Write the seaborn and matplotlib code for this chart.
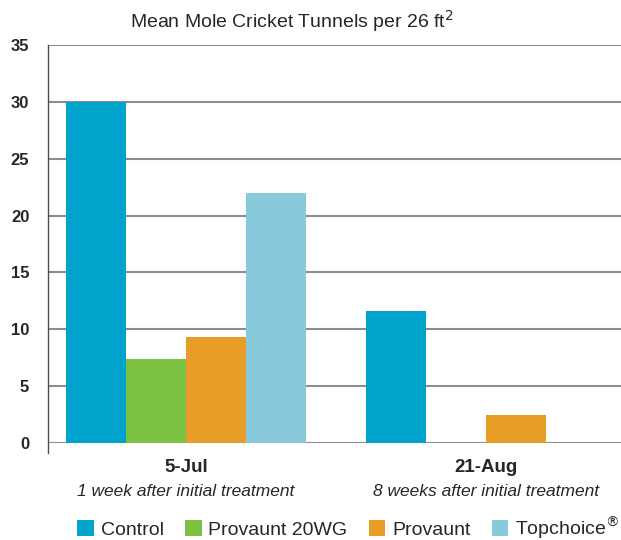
import pandas as pd
import matplotlib.pyplot as plt
import matplotlib.transforms as mtransforms
import seaborn as sns

# data
dates = ['5-Jul', '21-Aug']
subtitles = ['1 week after initial treatment', '8 weeks after initial treatment']
treatments = ['Control', 'Provaunt 20WG', 'Provaunt', 'Topchoice®']
legend_labels = ['Control', 'Provaunt 20WG', 'Provaunt', r'Topchoice$^{\circledR}$']
control = [30.0, 11.6]
provaunt_20wg = [7.4, 0.0]
provaunt = [9.3, 2.5]
topchoice = [22.0, 0.0]

colors = ['#00a3cb', '#7dc142', '#e89d29', '#88cadb']

rows = []
for name, vals in zip(treatments, [control, provaunt_20wg, provaunt, topchoice]):
    for d, v in zip(dates, vals):
        rows.append({'Date': d, 'Treatment': name, 'Tunnels': v})
df = pd.DataFrame(rows)

sns.set_style('white')
plt.rcParams['font.family'] = ['Liberation Sans', 'DejaVu Sans']

fig = plt.figure(figsize=(6.21, 5.4), dpi=100)
ax = fig.add_axes([0.0773, 0.1796, 0.9227, 0.737])

sns.barplot(data=df, x='Date', y='Tunnels', hue='Treatment', order=dates,
            hue_order=treatments, palette=colors, width=0.8, saturation=1,
            edgecolor='none', linewidth=0, ax=ax, zorder=3)

ax.set_ylim(0, 35)
ax.set_xlim(-0.46, 1.45)
ax.set_yticks(range(0, 36, 5))
ax.yaxis.grid(True, color='#8a8d93', linewidth=1.5, zorder=0)
ax.set_axisbelow(True)
for side in ['top', 'right', 'bottom']:
    ax.spines[side].set_visible(False)
ax.spines['left'].set_color('#4a4d55')
ax.spines['left'].set_linewidth(1.0)
ax.spines['left'].set_bounds(-0.9, 35)

ax.tick_params(axis='y', direction='out', length=7.5, width=1.5,
               color='#8a8d93', labelsize=12, pad=6)
for lbl in ax.get_yticklabels():
    lbl.set_fontweight('bold')
ax.set_ylabel('')
ax.set_xlabel('')
ax.set_xticks([])

trans = mtransforms.blended_transform_factory(ax.transData, ax.transAxes)
for i, (d, s) in enumerate(zip(dates, subtitles)):
    ax.text(i, -0.04, d, transform=trans, ha='center', va='top',
            fontsize=13.5, fontweight='bold')
    ax.text(i, -0.103, s, transform=trans, ha='center', va='top',
            fontsize=12.5, style='italic')

fig.suptitle('Mean Mole Cricket Tunnels per 26 ft$^2$', fontsize=14,
             x=0.47, y=0.985, va='top')

handles, _ = ax.get_legend_handles_labels()
ax.legend(handles, legend_labels, loc='upper center', bbox_to_anchor=(0.524, -0.16),
          ncol=4, frameon=False, fontsize=14, handlelength=0.85, handleheight=0.85,
          handletextpad=0.35, columnspacing=1.1, borderaxespad=0)

fig.savefig('out.png', dpi=100)
